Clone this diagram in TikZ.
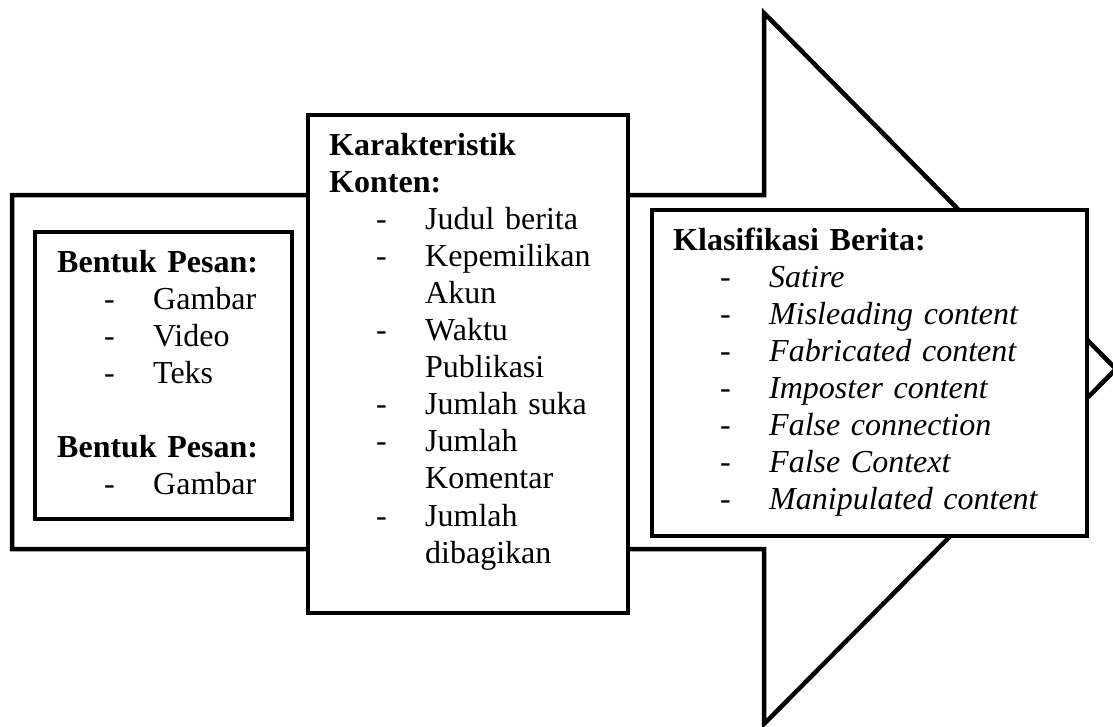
\documentclass[tikz,border=0pt]{standalone}
\usepackage{fontspec}
\setmainfont{Liberation Serif}
\newcommand\itm[1]{\makebox[96pt][l]{\hspace*{47pt}-}#1}
\newcommand\cont[1]{\hspace*{96pt}#1}
\begin{document}
\begin{tikzpicture}[x=1pt,y=-1pt,
  arrowline/.style={draw, line width=4.5pt, line join=miter},
  boxstyle/.style={draw, line width=4pt, fill=white, inner sep=0pt, anchor=north west},
  txt/.style={anchor=base west, inner sep=0pt, text width=430pt, align=left, font=\fontsize{32}{37.1}\selectfont}]
\useasboundingbox (0,0) rectangle (1113,726);
% big arrow
\coordinate (a1) at (12,195);
\coordinate (a2) at (764,195);
\coordinate (a3) at (764,13);
\coordinate (tip) at (1116,369);
\coordinate (a5) at (764,724);
\coordinate (a6) at (764,549);
\coordinate (a7) at (12,549);
\draw[arrowline] (a1) -- (a2) -- (a3) -- (tip) -- (a5) -- (a6) -- (a7) -- cycle;
% boxes
\node[boxstyle, minimum width=320pt, minimum height=498pt] (midbox) at (306,113) {};
\node[boxstyle, minimum width=435pt, minimum height=326pt] (rightbox) at (650,208) {};
\node[boxstyle, minimum width=257pt, minimum height=287pt] (leftbox) at (33,230) {};
% texts
\node[txt] (lefttext) at (57,272) {\textbf{Bentuk Pesan:}\\
\itm{Gambar}\\
\itm{Video}\\
\itm{Teks}\\[37.1pt]
\textbf{Bentuk Pesan:}\\
\itm{Gambar}};
\node[txt] (midtext) at (329,155) {\textbf{Karakteristik}\\
\textbf{Konten:}\\
\itm{Judul berita}\\
\itm{Kepemilikan}\\
\cont{Akun}\\
\itm{Waktu}\\
\cont{Publikasi}\\
\itm{Jumlah suka}\\
\itm{Jumlah}\\
\cont{Komentar}\\
\itm{Jumlah}\\
\cont{dibagikan}};
\node[txt] (righttext) at (673,250) {\textbf{Klasifikasi Berita:}\\
\itm{\textit{Satire}}\\
\itm{\textit{Misleading content}}\\
\itm{\textit{Fabricated content}}\\
\itm{\textit{Imposter content}}\\
\itm{\textit{False connection}}\\
\itm{\textit{False Context}}\\
\itm{\textit{Manipulated content}}};
\end{tikzpicture}
\end{document}
